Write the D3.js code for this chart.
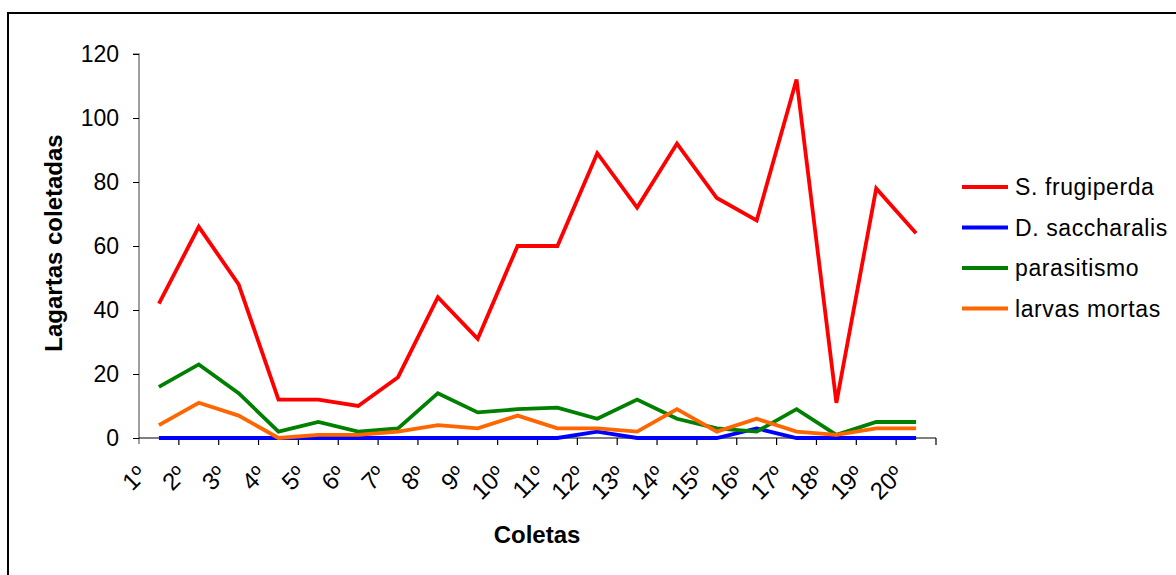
<!DOCTYPE html>
<html>
<head>
<meta charset="utf-8">
<script src="https://cdn.jsdelivr.net/npm/d3@7"></script>
<style>
  html, body { margin: 0; padding: 0; background: #fff; }
  svg { display: block; font-family: "Liberation Sans", Arial, sans-serif; }
</style>
</head>
<body>
<svg id="chart" width="1176" height="575"></svg>
<script>
const categories = ["1º","2º","3º","4º","5º","6º","7º","8º","9º","10º","11º","12º","13º","14º","15º","16º","17º","18º","19º","20º"];
const sFrugiperda = [42, 66, 48, 12, 12, 10, 19, 44, 31, 60, 60, 89, 72, 92, 75, 68, 112, 11, 78, 64];
const dSaccharalis = [0, 0, 0, 0, 0, 0, 0, 0, 0, 0, 0, 2, 0, 0, 0, 3, 0, 0, 0, 0];
const parasitismo = [16, 23, 14, 2, 5, 2, 3, 14, 8, 9, 9.5, 6, 12, 6, 3, 2, 9, 1, 5, 5];
const larvasMortas = [4, 11, 7, 0, 1, 1, 2, 4, 3, 7, 3, 3, 2, 9, 2, 6, 2, 1, 3, 3];
const seriesNames = ["S. frugiperda", "D. saccharalis", "parasitismo", "larvas mortas"];
const seriesColors = ["#ff0000", "#0000ff", "#008000", "#ff6600"];
const yTicks = [0, 20, 40, 60, 80, 100, 120];

const seriesData = [sFrugiperda, dSaccharalis, parasitismo, larvasMortas];

const svg = d3.select("#chart");

// outer frame
svg.append("rect")
  .attr("x", 8).attr("y", 13)
  .attr("width", 1200).attr("height", 600)
  .attr("fill", "none").attr("stroke", "#000").attr("stroke-width", 2);

const x = d3.scaleBand().domain(categories).range([139, 936]).paddingInner(0).paddingOuter(0);
const y = d3.scaleLinear().domain([0, 120]).range([438, 54]);
const cx = c => x(c) + x.bandwidth() / 2;

// Y axis
const yAxis = svg.append("g").attr("transform", "translate(139,0)")
  .call(d3.axisLeft(y).tickValues(yTicks).tickSize(6).tickPadding(14));
yAxis.select(".domain").attr("stroke", "#808080").attr("stroke-width", 1.5)
  .attr("d", "M-6,54H0V444");
yAxis.selectAll(".tick line").attr("stroke", "#000");
yAxis.selectAll(".tick text").attr("font-size", 23).attr("fill", "#000")
  .attr("font-family", "Liberation Sans, Arial, sans-serif");

// X axis: line + ticks at band boundaries
const xg = svg.append("g");
xg.append("line").attr("x1", 139).attr("x2", 936).attr("y1", 438).attr("y2", 438)
  .attr("stroke", "#000").attr("stroke-width", 1.2);
const boundaries = categories.map(c => x(c)).concat([x(categories[categories.length - 1]) + x.bandwidth()]);
xg.selectAll("line.tk").data(boundaries.slice(1)).enter().append("line")
  .attr("class", "tk")
  .attr("x1", d => d).attr("x2", d => d).attr("y1", 438).attr("y2", 445)
  .attr("stroke", "#000").attr("stroke-width", 1.2);

xg.selectAll("text.xl").data(categories).enter().append("text")
  .attr("class", "xl")
  .attr("transform", d => `translate(${cx(d) - 11},476) rotate(-45)`)
  .attr("text-anchor", "end")
  .attr("font-size", 24)
  .attr("fill", "#000")
  .text(d => d);

// Lines
const line = d3.line().x((d, i) => cx(categories[i])).y(d => y(d));
seriesData.forEach((s, k) => {
  svg.append("path").datum(s)
    .attr("d", line)
    .attr("fill", "none")
    .attr("stroke", seriesColors[k])
    .attr("stroke-width", 3.8)
    .attr("stroke-linejoin", "miter");
});

// Axis titles
svg.append("text")
  .attr("x", 537).attr("y", 543)
  .attr("text-anchor", "middle")
  .attr("font-size", 24).attr("font-weight", "bold")
  .text("Coletas");

svg.append("text")
  .attr("transform", "translate(62,243) rotate(-90)")
  .attr("text-anchor", "middle")
  .attr("font-size", 24).attr("font-weight", "bold")
  .text("Lagartas coletadas");

// Legend
const legend = svg.append("g");
seriesNames.forEach((name, k) => {
  const ly = 187 + k * 40.5;
  legend.append("line")
    .attr("x1", 962).attr("x2", 1008).attr("y1", ly).attr("y2", ly)
    .attr("stroke", seriesColors[k]).attr("stroke-width", 4);
  legend.append("text")
    .attr("x", 1015).attr("y", ly + 8)
    .attr("font-size", 23).attr("letter-spacing", 0.6)
    .attr("fill", "#000")
    .text(name);
});
</script>
</body>
</html>
